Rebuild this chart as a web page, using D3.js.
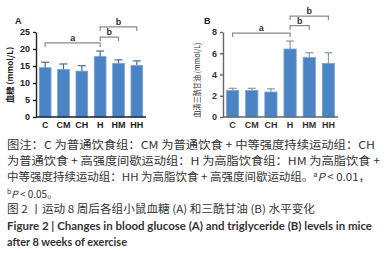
<!DOCTYPE html>
<html>
<head>
<meta charset="utf-8">
<script src="https://cdn.jsdelivr.net/npm/d3@7"></script>
<style>
  body { margin: 0; background: #fff; }
  svg { display: block; }
  .cap { font-family: "Noto Sans CJK SC", "Noto Sans", sans-serif; font-size: 11px; fill: #333; }
  .en { font-family: Lato, "Noto Sans", sans-serif; font-size: 11.5px; font-weight: bold; fill: #333; }
</style>
</head>
<body>
<svg width="387" height="253"></svg>
<script>
// **** data ****
var groups = ["C", "CM", "CH", "H", "HM", "HH"];
var glucose = [14.5, 14.0, 13.5, 17.8, 15.8, 15.2];
var glucoseSd = [1.6, 1.6, 1.6, 1.6, 1.0, 1.3];
var tg = [2.5, 2.5, 2.35, 6.4, 5.6, 5.05];
var tgSd = [0.2, 0.2, 0.3, 0.75, 0.45, 1.0];
var ticksA = [0, 5, 10, 15, 20, 25];
var ticksB = [0, 2, 4, 6, 8];
// brackets: [from, to, level, letter]
var bracketsA = [["C", "H", 21.8, "a"], ["H", "HM", 23.5, "b"], ["H", "HH", 26.5, "b"]];
var bracketsB = [["C", "H", 7.9, "a"], ["H", "HM", 8.6, "b"], ["H", "HH", 9.5, "b"]];

var svg = d3.select('svg');
var barColor = "#4a84c4";

function drawPanel(opt) {
    var x = d3.scaleBand().domain(groups).range(opt.xr).paddingInner(0.36).paddingOuter(0.18);
    var y = d3.scaleLinear().domain(opt.dom).range([117, 32]);
    var g = svg.append('g');

    // bars
    g.selectAll('rect.bar').data(opt.vals).enter().append('rect')
        .attr('x', function (d, i) { return x(groups[i]); })
        .attr('y', function (d) { return y(d); })
        .attr('width', x.bandwidth())
        .attr('height', function (d) { return y(0) - y(d); })
        .attr('fill', barColor)
        .attr('stroke', '#7aa6d8').attr('stroke-width', 0.8);

    // error bars
    opt.vals.forEach(function (v, i) {
        var cx = x(groups[i]) + x.bandwidth() / 2;
        var top = y(v + opt.sd[i]);
        g.append('line').attr('x1', cx).attr('x2', cx).attr('y1', y(v)).attr('y2', top)
            .attr('stroke', opt.errColor).attr('stroke-width', 1.2);
        g.append('line').attr('x1', cx - 4).attr('x2', cx + 4).attr('y1', top).attr('y2', top)
            .attr('stroke', opt.errColor).attr('stroke-width', 1.2);
    });

    // axes
    var ya = g.append('g').attr('transform', 'translate(' + opt.xr[0] + ',0)')
        .call(d3.axisLeft(y).tickValues(opt.ticks).tickSize(3).tickSizeOuter(0));
    var xa = g.append('g').attr('transform', 'translate(0,117)')
        .call(d3.axisBottom(x).tickSize(0).tickPadding(5));
    xa.select('.domain').attr('d', 'M' + opt.xr[0] + ',0H' + opt.xr[1]);
    [ya, xa].forEach(function (a) {
        a.selectAll('.domain, line').attr('stroke', opt.axisColor).attr('stroke-width', 1.4);
        a.selectAll('text').attr('fill', opt.textColor)
            .style('font-family', 'Liberation Sans, Arial, sans-serif')
            .style('font-size', '9px').style('font-weight', 'bold');
    });

    // brackets
    opt.brackets.forEach(function (b) {
        var x1 = x(b[0]) + x.bandwidth() / 2, x2 = x(b[1]) + x.bandwidth() / 2;
        var by = y(b[2]);
        g.append('path')
            .attr('d', 'M' + x1 + ',' + (by + 4) + 'V' + by + 'H' + x2 + 'V' + (by + 4))
            .attr('fill', 'none').attr('stroke', '#8a8a8a').attr('stroke-width', 1.2);
        g.append('text').attr('x', (x1 + x2) / 2).attr('y', by - 2)
            .attr('text-anchor', 'middle').attr('fill', '#333')
            .style('font-family', 'Liberation Sans, Arial, sans-serif')
            .style('font-size', '9px').style('font-weight', 'bold').text(b[3]);
    });

    // panel letter
    g.append('text').attr('x', opt.letterX).attr('y', 24).text(opt.letter)
        .attr('fill', '#222').style('font-family', 'Liberation Sans, Arial, sans-serif')
        .style('font-size', '9px').style('font-weight', 'bold');

    // y label
    g.append('text').attr('transform', 'translate(' + opt.labelX + ',' + opt.labelY + ') rotate(-90)')
        .attr('text-anchor', 'middle').attr('fill', opt.textColor)
        .attr('textLength', opt.labelLen).attr('lengthAdjust', 'spacingAndGlyphs')
        .style('font-family', 'Noto Sans CJK SC, sans-serif')
        .style('font-size', '8px').style('font-weight', opt.labelWeight)
        .text(opt.label);
}

drawPanel({
    xr: [36, 146], dom: [0, 25], vals: glucose, sd: glucoseSd, ticks: ticksA,
    brackets: bracketsA, letter: "A", letterX: 15, label: "血糖 (mmol/L)",
    labelX: 13, labelY: 75, labelLen: 56, labelWeight: 'bold',
    axisColor: '#222', textColor: '#222', errColor: '#3f6ea6'
});
drawPanel({
    xr: [223, 338], dom: [0, 8], vals: tg, sd: tgSd, ticks: ticksB,
    brackets: bracketsB, letter: "B", letterX: 204, label: "血清三酰甘油 (mmol/L)",
    labelX: 200, labelY: 80, labelLen: 75, labelWeight: 'normal',
    axisColor: '#666', textColor: '#333', errColor: '#8a98aa'
});

// **** caption ****
function capLine(cls, yPos, len, parts, size) {
    var t = svg.append('text').attr('class', cls).attr('x', 7).attr('y', yPos);
    if (len) t.attr('textLength', len).attr('lengthAdjust', 'spacingAndGlyphs');
    if (size) t.style('font-size', size);
    parts.forEach(function (p) {
        var s = t.append('tspan').text(p[0]);
        if (p[1] === 'sup') s.attr('dy', -4).style('font-size', '7px');
        if (p[1] === 'base') s.attr('dy', 4).style('font-style', 'italic');
    });
}
capLine('cap', 149, 368, [["图注：C 为普通饮食组：CM 为普通饮食 + 中等强度持续运动组：CH"]]);
capLine('cap', 165, 373, [["为普通饮食 + 高强度间歇运动组：H 为高脂饮食组：HM 为高脂饮食 +"]]);
capLine('cap', 181, 363, [["中等强度持续运动组：HH 为高脂饮食 + 高强度间歇运动组。"], ["a", 'sup'], ["P", 'base'], [" < 0.01，"]]);
capLine('cap', 198, null, [["b", 'sup'], ["P", 'base'], [" < 0.05。"]], '10px');
capLine('cap', 213, 308, [["图 2 丨运动 8 周后各组小鼠血糖 (A) 和三酰甘油 (B) 水平变化"]]);
capLine('en', 230, 365, [["Figure 2 |  Changes in blood glucose (A) and triglyceride (B) levels in mice"]]);
capLine('en', 246, 120, [["after 8 weeks of exercise"]]);
</script>
</body>
</html>
